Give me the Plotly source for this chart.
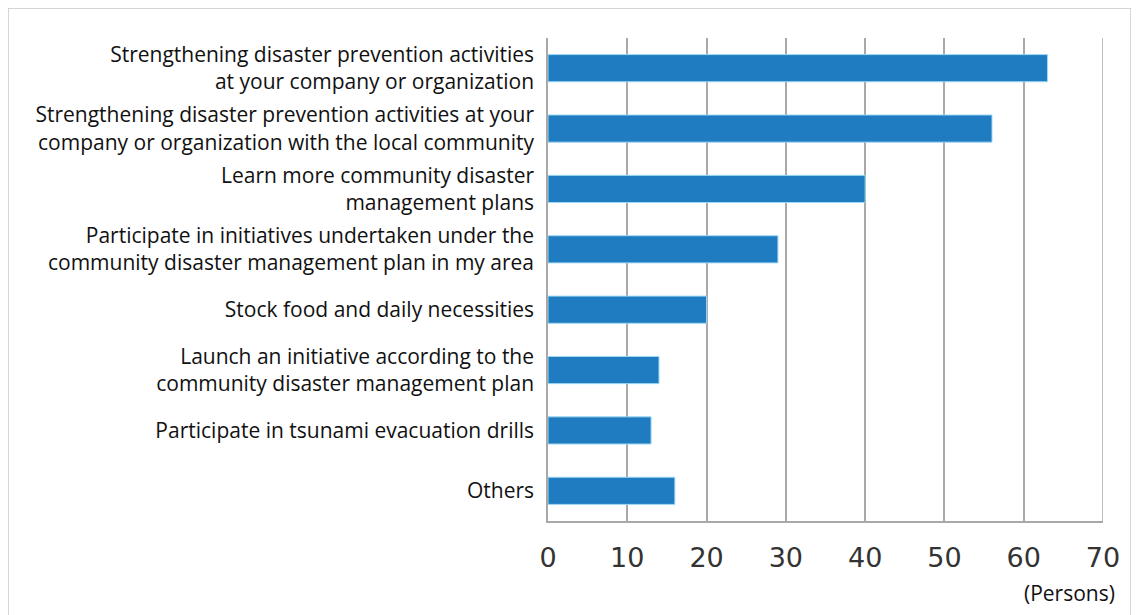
import plotly.graph_objects as go

categories = [
    "Strengthening disaster prevention activities<br>at your company or organization",
    "Strengthening disaster prevention activities at your<br>company or organization with the local community",
    "Learn more community disaster<br>management plans",
    "Participate in initiatives undertaken under the<br>community disaster management plan in my area",
    "Stock food and daily necessities",
    "Launch an initiative according to the<br>community disaster management plan",
    "Participate in tsunami evacuation drills",
    "Others",
]
values = [63, 56, 40, 29, 20, 14, 13, 16]
tick_vals = [0, 10, 20, 30, 40, 50, 60, 70]

fig = go.Figure(
    go.Bar(
        x=values,
        y=categories,
        orientation="h",
        marker=dict(color="#1f7cc0", line=dict(color="#9fd8f5", width=1)),
        width=0.45,
    )
)

fig.update_layout(
    width=1139,
    height=615,
    margin=dict(l=540, r=44, t=30, b=102),
    paper_bgcolor="white",
    plot_bgcolor="white",
    showlegend=False,
    font=dict(family="Open Sans, Noto Sans, sans-serif", color="#111"),
)

fig.update_xaxes(
    range=[tick_vals[0], tick_vals[-1]],
    tickvals=tick_vals,
    showgrid=True,
    gridcolor="#a8a8a8",
    gridwidth=1.5,
    showline=True,
    linecolor="#a8a8a8",
    linewidth=1.5,
    zeroline=False,
    ticks="",
    ticklabelstandoff=12,
    tickfont=dict(family="DejaVu Sans", size=27, color="#333"),
)
fig.update_yaxes(
    autorange="reversed",
    showline=True,
    linecolor="#a8a8a8",
    linewidth=1.5,
    showgrid=False,
    ticks="",
    ticklabelstandoff=8,
    tickfont=dict(family="Open Sans, Noto Sans, sans-serif", size=21, color="#111"),
)

# gridline at the axis end (Plotly omits it at the range edge)
fig.add_shape(
    type="line",
    xref="x", yref="paper",
    x0=tick_vals[-1], x1=tick_vals[-1], y0=0, y1=1,
    line=dict(color="#a8a8a8", width=1.5),
    layer="below",
)

fig.add_annotation(
    text="(Persons)",
    xref="paper", yref="paper",
    x=1.025, y=-0.149,
    xanchor="right", yanchor="middle",
    showarrow=False,
    font=dict(family="Open Sans, Noto Sans, sans-serif", size=21, color="#111"),
)

fig.add_shape(
    type="rect",
    xref="paper", yref="paper",
    x0=-0.973, x1=1.0505, y0=-0.3, y1=1.062,
    line=dict(color="#c8c8c8", width=1.5),
    fillcolor="rgba(0,0,0,0)",
    layer="below",
)

fig.write_html("out.html")
